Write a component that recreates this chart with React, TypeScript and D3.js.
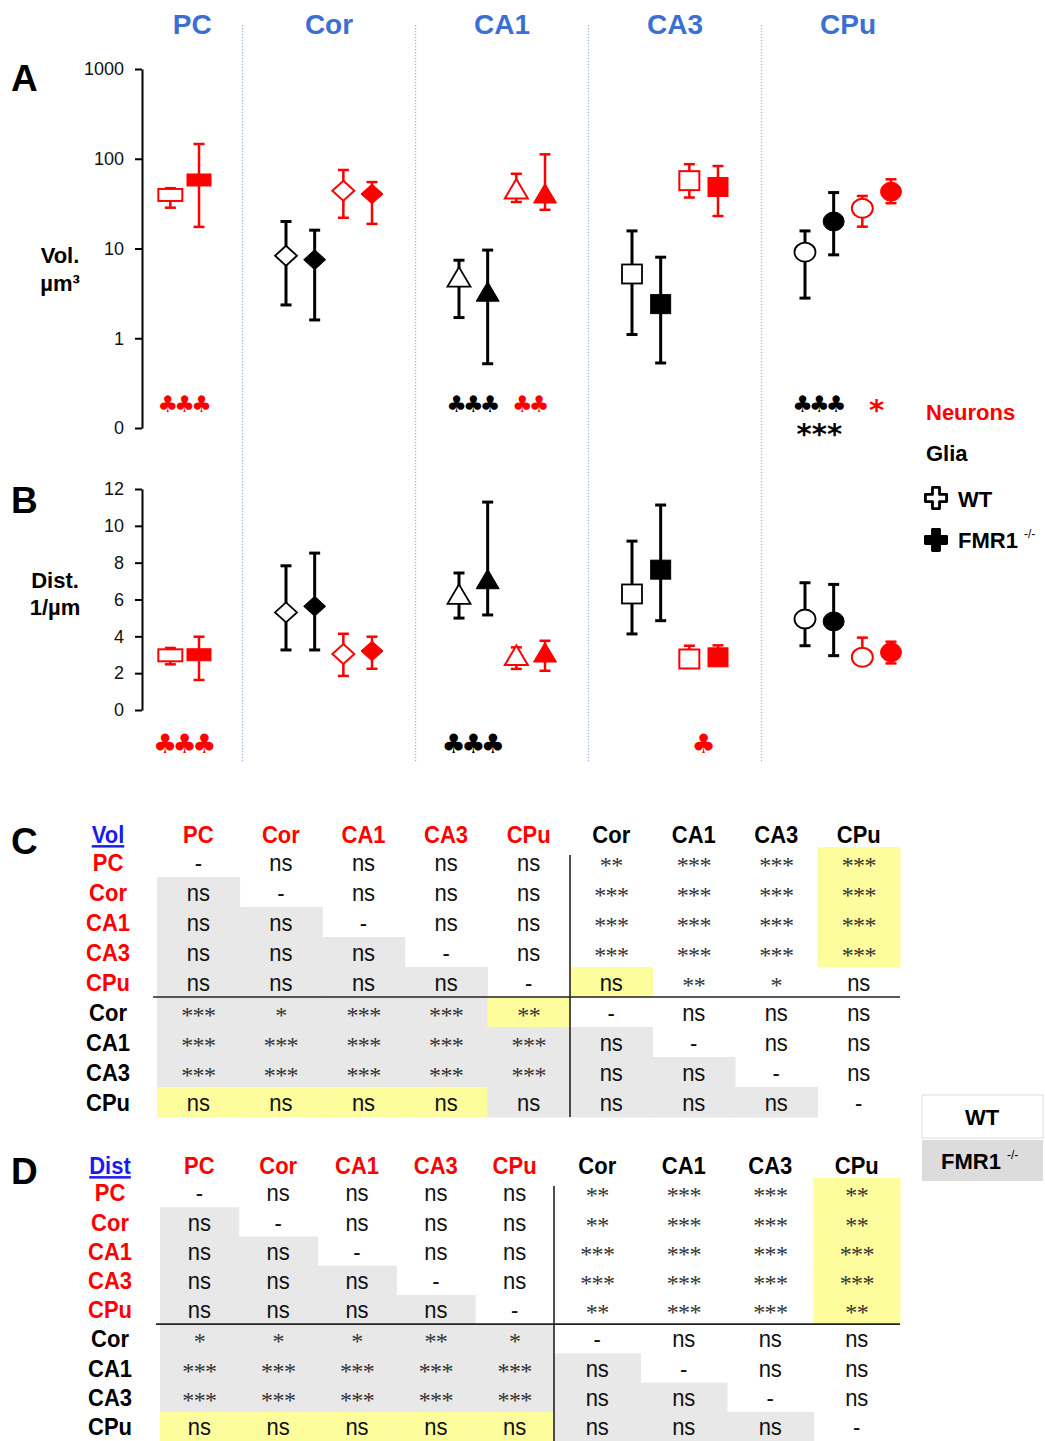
import React, { useRef, useEffect } from "react";
import * as d3 from "d3";

// regions (columns of panels A/B) and the four measured groups
const regions = ["PC", "Cor", "CA1", "CA3", "CPu"];
const groups = ["gliaWT", "gliaKO", "neuWT", "neuKO"];

// Panel A: volume (µm³), log axis. null = not measured
const volGliaWT = [null, 8.3, 4.8, 5.2, 9.1];
const volGliaWTLo = [null, 2.35, 1.7, 1.1, 2.8];
const volGliaWTHi = [null, 20, 7.4, 15.7, 15.7];
const volGliaKO = [null, 7.5, 3.3, 2.4, 20];
const volGliaKOLo = [null, 1.6, 0.52, 0.53, 8.5];
const volGliaKOHi = [null, 16, 9.6, 8.0, 42];
const volNeuWT = [39.5, 44, 46, 57, 28];
const volNeuWTLo = [28.5, 22, 33, 37, 17.5];
const volNeuWTHi = [47, 75, 68, 87, 38.5];
const volNeuKO = [58, 40.5, 41, 48.5, 43];
const volNeuKOLo = [17.4, 18.8, 27, 23, 32];
const volNeuKOHi = [146, 55, 112, 83, 59];

// Panel B: distance (1/µm)
const distGliaWT = [null, 5.3, 6.28, 6.3, 4.94];
const distGliaWTLo = [null, 3.26, 4.99, 4.13, 3.49];
const distGliaWTHi = [null, 7.83, 7.44, 9.17, 6.91];
const distGliaKO = [null, 5.63, 7.1, 7.62, 4.81];
const distGliaKOLo = [null, 3.26, 5.16, 4.85, 2.95];
const distGliaKOHi = [null, 8.52, 11.29, 11.13, 6.82];
const distNeuWT = [2.97, 3.04, 2.96, 2.77, 2.86];
const distNeuWTLo = [2.48, 1.85, 2.23, 2.6, 2.6];
const distNeuWTHi = [3.37, 4.14, 3.4, 3.49, 3.93];
const distNeuKO = [3.0, 3.2, 3.12, 2.86, 3.13];
const distNeuKOLo = [1.63, 2.24, 2.13, 2.6, 2.53];
const distNeuKOHi = [3.98, 3.98, 3.76, 3.51, 3.71];

const volTicks = [0.1, 1, 10, 100, 1000];
const volTickLabels = ["0", "1", "10", "100", "1000"];
const distTicks = [0, 2, 4, 6, 8, 10, 12];

// significance marks under the plots
const sigA = [
  { region: "PC", pair: "neu", text: "♣♣♣", red: true, line: 0 },
  { region: "CA1", pair: "glia", text: "♣♣♣", red: false, line: 0 },
  { region: "CA1", pair: "neu", text: "♣♣", red: true, line: 0 },
  { region: "CPu", pair: "glia", text: "♣♣♣", red: false, line: 0 },
  { region: "CPu", pair: "glia", text: "***", red: false, line: 1 },
  { region: "CPu", pair: "neu", text: "*", red: true, line: 1 },
];
const sigB = [
  { region: "PC", pair: "neu", text: "♣♣♣", red: true },
  { region: "CA1", pair: "glia", text: "♣♣♣", red: false },
  { region: "CA3", pair: "neu", text: "♣", red: true },
];

// tables C and D
const tableRows = ["PC", "Cor", "CA1", "CA3", "CPu", "Cor", "CA1", "CA3", "CPu"];
const volCells = [
  ["-", "ns", "ns", "ns", "ns", "**", "***", "***", "***"],
  ["ns", "-", "ns", "ns", "ns", "***", "***", "***", "***"],
  ["ns", "ns", "-", "ns", "ns", "***", "***", "***", "***"],
  ["ns", "ns", "ns", "-", "ns", "***", "***", "***", "***"],
  ["ns", "ns", "ns", "ns", "-", "ns", "**", "*", "ns"],
  ["***", "*", "***", "***", "**", "-", "ns", "ns", "ns"],
  ["***", "***", "***", "***", "***", "ns", "-", "ns", "ns"],
  ["***", "***", "***", "***", "***", "ns", "ns", "-", "ns"],
  ["ns", "ns", "ns", "ns", "ns", "ns", "ns", "ns", "-"],
];
const volYellow = [[0, 8], [1, 8], [2, 8], [3, 8], [4, 5], [5, 4], [8, 0], [8, 1], [8, 2], [8, 3]];
const distCells = [
  ["-", "ns", "ns", "ns", "ns", "**", "***", "***", "**"],
  ["ns", "-", "ns", "ns", "ns", "**", "***", "***", "**"],
  ["ns", "ns", "-", "ns", "ns", "***", "***", "***", "***"],
  ["ns", "ns", "ns", "-", "ns", "***", "***", "***", "***"],
  ["ns", "ns", "ns", "ns", "-", "**", "***", "***", "**"],
  ["*", "*", "*", "**", "*", "-", "ns", "ns", "ns"],
  ["***", "***", "***", "***", "***", "ns", "-", "ns", "ns"],
  ["***", "***", "***", "***", "***", "ns", "ns", "-", "ns"],
  ["ns", "ns", "ns", "ns", "ns", "ns", "ns", "ns", "-"],
];
const distYellow = [[0, 8], [1, 8], [2, 8], [3, 8], [4, 8], [8, 0], [8, 1], [8, 2], [8, 3], [8, 4]];

const FONT = "'Liberation Sans', Arial, Helvetica, sans-serif";
const RED = "#ff0000";
const BLUE = "#3b6fd4";
const GREY = "#e8e8e8";
const YELLOW = "#fdfd9e";
const shapes = ["rect", "diamond", "triangle", "square", "circle"];

const App = () => {
  const svgRef = useRef(null);
  useEffect(() => {
    const svg = d3.select(svgRef.current);
    svg.selectAll("*").remove();

    const axisX = 142;
    const xRegion = d3.scaleBand().domain(regions).range([69.5, 934.5]);
    const xSub = d3.scalePoint().domain(groups).range([-43, 43]);
    const cx = (r, g) => xRegion(r) + xRegion.bandwidth() / 2 + xSub(g);

    const yA = d3.scaleLog().domain([0.1, 1000]).range([428, 69]);
    const yB = d3.scaleLinear().domain([0, 12]).range([710, 489]);

    // column titles + dotted dividers
    regions.forEach((r, i) => {
      const x0 = Math.max(xRegion(r), axisX);
      const x1 = xRegion(r) + xRegion.bandwidth();
      svg.append("text").attr("x", (x0 + x1) / 2).attr("y", 34)
        .attr("text-anchor", "middle").attr("font-size", 28)
        .attr("font-weight", "bold").attr("fill", BLUE).text(r);
      if (i > 0) {
        svg.append("line").attr("x1", xRegion(r)).attr("x2", xRegion(r))
          .attr("y1", 25).attr("y2", 762)
          .attr("stroke", "#9ab8ea").attr("stroke-width", 1.3)
          .attr("stroke-dasharray", "1.3,1.7");
      }
    });

    // panel letters
    [["A", 91], ["B", 513], ["C", 854], ["D", 1184]].forEach(([t, y]) => {
      svg.append("text").attr("x", 11).attr("y", y).attr("font-size", 37)
        .attr("font-weight", "bold").text(t);
    });

    // axes
    const styleAxis = (g) => {
      g.selectAll("path").attr("stroke", "#000").attr("stroke-width", 2);
      g.selectAll("line").attr("stroke", "#000").attr("stroke-width", 2);
      g.selectAll("text").attr("font-size", 18).attr("font-family", FONT).attr("fill", "#111");
    };
    svg.append("g").attr("transform", `translate(${axisX},0)`)
      .call(d3.axisLeft(yA).tickValues(volTicks)
        .tickFormat((d, i) => volTickLabels[i]).tickSize(7).tickSizeOuter(0).tickPadding(11))
      .call(styleAxis);
    svg.append("g").attr("transform", `translate(${axisX},0)`)
      .call(d3.axisLeft(yB).tickValues(distTicks).tickSize(7).tickSizeOuter(0).tickPadding(11))
      .call(styleAxis);

    // axis titles
    const yTitle = (lines, x) => {
      lines.forEach(([t, y]) => {
        svg.append("text").attr("x", x).attr("y", y).attr("text-anchor", "middle")
          .attr("font-size", 22).attr("font-weight", "bold").text(t);
      });
    };
    yTitle([["Vol.", 263], ["µm³", 291]], 60);
    yTitle([["Dist.", 588], ["1/µm", 615]], 55);

    // marker drawing
    const marker = (g, shape, x, y, filled, color, sw) => {
      const fill = filled ? color : "#fff";
      let m;
      if (shape === "rect" || shape === "square") {
        const w = shape === "rect" ? 24 : 20;
        const h = shape === "rect" ? 12 : 19;
        m = g.append("rect").attr("x", x - w / 2).attr("y", y - h / 2)
          .attr("width", w).attr("height", h);
      } else if (shape === "circle") {
        m = g.append("ellipse").attr("cx", x).attr("cy", y).attr("rx", 10.5).attr("ry", 9.5);
      } else if (shape === "diamond") {
        m = g.append("polygon").attr("points",
          [[x, y - 10], [x + 11, y], [x, y + 10], [x - 11, y]].map((p) => p.join(",")).join(" "));
      } else {
        m = g.append("polygon").attr("points",
          [[x, y - 10], [x + 11.5, y + 9.5], [x - 11.5, y + 9.5]].map((p) => p.join(",")).join(" "));
      }
      m.attr("fill", fill).attr("stroke", color).attr("stroke-width", filled ? 1 : sw)
        .attr("stroke-linejoin", "miter");
    };

    const drawPanel = (series, y) => {
      const g = svg.append("g");
      series.forEach((s) => {
        const color = s.red ? RED : "#000";
        const sw = s.red ? 2.5 : 3;
        regions.forEach((r, i) => {
          if (s.mean[i] == null) return;
          const x = cx(r, s.key);
          const eb = g.append("g").attr("stroke", color).attr("stroke-width", sw);
          eb.append("line").attr("x1", x).attr("x2", x).attr("y1", y(s.lo[i])).attr("y2", y(s.hi[i]));
          [s.lo[i], s.hi[i]].forEach((v) => {
            eb.append("line").attr("x1", x - 5.5).attr("x2", x + 5.5).attr("y1", y(v)).attr("y2", y(v));
          });
          marker(g, shapes[i], x, y(s.mean[i]), s.filled, color, s.red ? 2 : 1.8);
        });
      });
    };

    drawPanel([
      { key: "gliaWT", mean: volGliaWT, lo: volGliaWTLo, hi: volGliaWTHi, red: false, filled: false },
      { key: "gliaKO", mean: volGliaKO, lo: volGliaKOLo, hi: volGliaKOHi, red: false, filled: true },
      { key: "neuWT", mean: volNeuWT, lo: volNeuWTLo, hi: volNeuWTHi, red: true, filled: false },
      { key: "neuKO", mean: volNeuKO, lo: volNeuKOLo, hi: volNeuKOHi, red: true, filled: true },
    ], yA);
    drawPanel([
      { key: "gliaWT", mean: distGliaWT, lo: distGliaWTLo, hi: distGliaWTHi, red: false, filled: false },
      { key: "gliaKO", mean: distGliaKO, lo: distGliaKOLo, hi: distGliaKOHi, red: false, filled: true },
      { key: "neuWT", mean: distNeuWT, lo: distNeuWTLo, hi: distNeuWTHi, red: true, filled: false },
      { key: "neuKO", mean: distNeuKO, lo: distNeuKOLo, hi: distNeuKOHi, red: true, filled: true },
    ], yB);

    // significance symbols
    const pairX = (r, pair) => pair === "glia"
      ? (cx(r, "gliaWT") + cx(r, "gliaKO")) / 2
      : (cx(r, "neuWT") + cx(r, "neuKO")) / 2;
    const sigText = (s, y, clubSize, ls) => {
      const isClub = s.text.includes("♣");
      const t = svg.append("text").attr("y", y)
        .attr("text-anchor", "middle")
        .attr("font-family", "'DejaVu Sans', sans-serif")
        .attr("fill", s.red ? RED : "#000").text(s.text);
      if (isClub) {
        // tighter packing; the trailing spacing shifts the centre, so compensate
        t.attr("x", pairX(s.region, s.pair) + ls / 2).attr("font-size", clubSize)
          .attr("letter-spacing", ls);
      } else {
        t.attr("x", pairX(s.region, s.pair)).attr("font-weight", "bold").attr("font-size", 29);
      }
    };
    sigA.forEach((s) => {
      const isClub = s.text.includes("♣");
      sigText(s, isClub ? 412 : s.red ? 420 : 444, 23, -3.8);
    });
    sigB.forEach((s) => sigText(s, 753, 27, -4.6));

    // legend (panels A/B)
    svg.append("text").attr("x", 926).attr("y", 420).attr("font-size", 22)
      .attr("font-weight", "bold").attr("fill", RED).text("Neurons");
    svg.append("text").attr("x", 926).attr("y", 461).attr("font-size", 22)
      .attr("font-weight", "bold").text("Glia");
    const cross = d3.symbol().type(d3.symbolCross).size(250);
    svg.append("path").attr("d", cross()).attr("transform", "translate(936,498)")
      .attr("fill", "#fff").attr("stroke", "#000").attr("stroke-width", 2.8)
      .attr("stroke-linejoin", "round");
    svg.append("path").attr("d", cross()).attr("transform", "translate(936,540)")
      .attr("fill", "#000").attr("stroke", "#000").attr("stroke-width", 2.8)
      .attr("stroke-linejoin", "round");
    svg.append("text").attr("x", 958).attr("y", 507).attr("font-size", 22)
      .attr("font-weight", "bold").text("WT");
    const fmr = svg.append("text").attr("x", 958).attr("y", 548).attr("font-size", 22)
      .attr("font-weight", "bold");
    fmr.append("tspan").text("FMR1 ");
    fmr.append("tspan").attr("font-size", 12).attr("font-weight", "normal")
      .attr("dy", -10).text("-/-");

    // tables
    const drawTable = (cells, yellow, title, top, bottom, left, split, right, labelX) => {
      const yRow = d3.scaleBand().domain(d3.range(9)).range([top, bottom]);
      const xL = d3.scaleBand().domain(d3.range(5)).range([left, split]);
      const xR = d3.scaleBand().domain(d3.range(5, 9)).range([split, right]);
      const xc = (c) => (c < 5 ? xL : xR);
      const isYellow = (r, c) => yellow.some(([a, b]) => a === r && b === c);
      const g = svg.append("g");
      const rh = yRow.bandwidth();

      cells.forEach((row, r) => row.forEach((v, c) => {
        const bg = isYellow(r, c) ? YELLOW : r > c ? GREY : null;
        if (bg) {
          g.append("rect").attr("x", xc(c)(c)).attr("y", yRow(r))
            .attr("width", xc(c).bandwidth() + 0.5).attr("height", rh + 0.5).attr("fill", bg);
        }
      }));

      const txt = (x, y, s, size, opts) => {
        const t = g.append("text").attr("transform", `translate(${x},${y}) scale(1,1.12)`)
          .attr("text-anchor", "middle").attr("font-size", size).text(s);
        Object.entries(opts || {}).forEach(([k, val]) => t.attr(k, val));
        return t;
      };

      // column headers
      const hy = top - 4;
      tableRows.forEach((r, c) => {
        const x = xc(c)(c) + xc(c).bandwidth() / 2;
        txt(x, hy, r, 22, { "font-weight": "bold", fill: c < 5 ? RED : "#000" });
      });
      txt(labelX, hy, title, 22, { "font-weight": "bold", fill: "#1a1aee", "text-decoration": "underline" });

      // row labels and cells
      cells.forEach((row, r) => {
        const by = yRow(r) + rh * 0.8;
        txt(labelX, by, tableRows[r], 22, { "font-weight": "bold", fill: r < 5 ? RED : "#000" });
        row.forEach((v, c) => {
          const x = xc(c)(c) + xc(c).bandwidth() / 2;
          if (v.startsWith("*")) {
            g.append("text").attr("x", x).attr("y", by + 2).attr("text-anchor", "middle")
              .attr("font-family", "'Liberation Serif', 'Times New Roman', serif")
              .attr("font-size", 24).attr("fill", "#333").attr("letter-spacing", -0.6).text(v);
          } else {
            txt(x, by, v, 22, { fill: "#111" });
          }
        });
      });

      // separator lines
      g.append("line").attr("x1", left - 4).attr("x2", right).attr("y1", yRow(5)).attr("y2", yRow(5))
        .attr("stroke", "#222").attr("stroke-width", 1.6);
      g.append("line").attr("x1", split).attr("x2", split).attr("y1", top + 8).attr("y2", bottom)
        .attr("stroke", "#222").attr("stroke-width", 1.6);
    };
    drawTable(volCells, volYellow, "Vol", 847, 1117, 157, 570, 900, 108);
    drawTable(distCells, distYellow, "Dist", 1178, 1441, 160, 554, 900, 110);

    // table legend
    svg.append("rect").attr("x", 922).attr("y", 1095).attr("width", 121).attr("height", 43)
      .attr("fill", "#fff").attr("stroke", "#ddd");
    svg.append("rect").attr("x", 922).attr("y", 1140).attr("width", 121).attr("height", 41)
      .attr("fill", "#dcdcdc");
    svg.append("text").attr("x", 982).attr("y", 1125).attr("text-anchor", "middle")
      .attr("font-size", 22).attr("font-weight", "bold").text("WT");
    const fm2 = svg.append("text").attr("x", 941).attr("y", 1169).attr("font-size", 22)
      .attr("font-weight", "bold");
    fm2.append("tspan").text("FMR1 ");
    fm2.append("tspan").attr("font-size", 12).attr("font-weight", "normal")
      .attr("dy", -10).text("-/-");
  }, []);

  return (
    <svg
      ref={svgRef}
      width={1045}
      height={1441}
      style={{ position: "absolute", left: 0, top: 0, background: "#fff", fontFamily: FONT }}
    />
  );
};

export default App;
